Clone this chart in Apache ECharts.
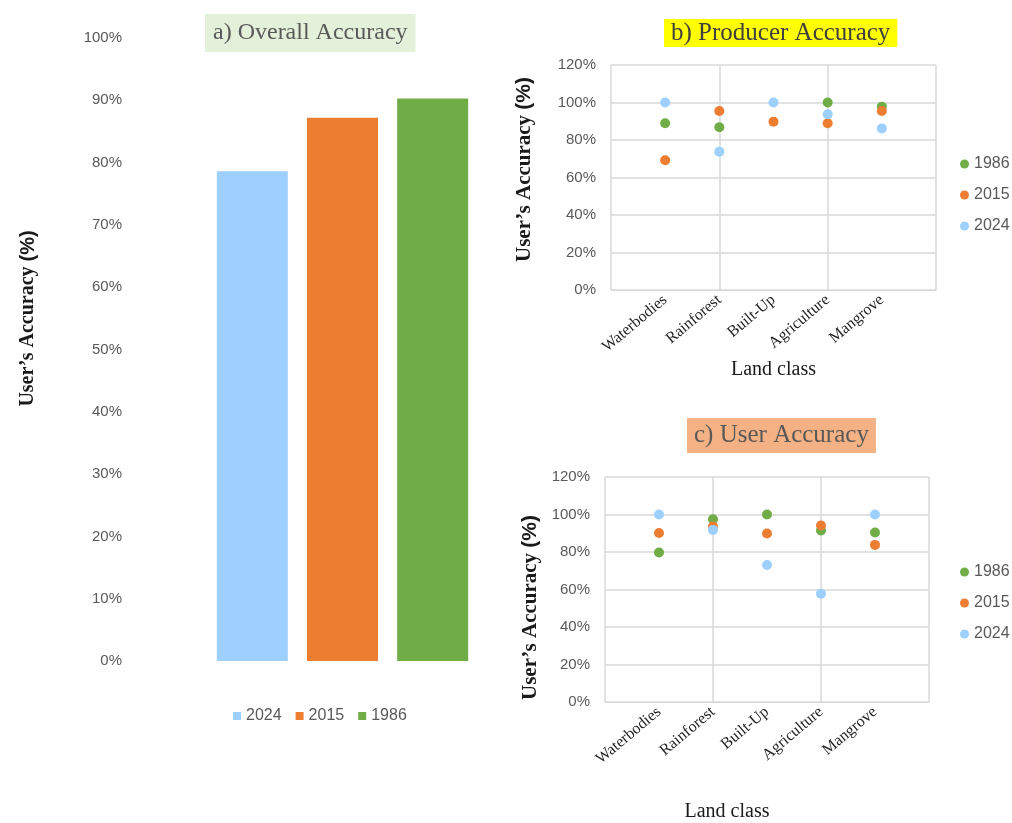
<!DOCTYPE html>
<html>
<head>
<meta charset="utf-8">
<script src="https://cdn.jsdelivr.net/npm/echarts@6/dist/echarts.min.js"></script>
<style>
  html, body { margin: 0; padding: 0; background: #ffffff; }
  #chart { width: 1012px; height: 823px; }
</style>
</head>
<body>
<div id="chart"></div>
<script>
// Years shown in every panel
const years = ['1986', '2015', '2024'];
const yearColors = { '1986': '#70AD47', '2015': '#ED7D31', '2024': '#9DCFFF' };

// a) Overall accuracy per year (%)
const overallYears = ['2024', '2015', '1986'];
const overallAccuracy = [78.6, 87.2, 90.3];

// Land classes (b and c); blank slots pad the axis ends
const landClasses = ['Waterbodies', 'Rainforest', 'Built-Up', 'Agriculture', 'Mangrove'];
const classSlots = [''].concat(landClasses, ['']);

// b) Producer accuracy (%) by land class
const producer1986 = [88.9, 86.8, null, 100, 97.8];
const producer2015 = [69.2, 95.5, 89.8, 88.9, 95.5];
const producer2024 = [100, 73.8, 100, 93.7, 86.2];

// c) User accuracy (%) by land class
const user1986 = [79.7, 97.5, 100, 91.5, 90.4];
const user2015 = [90.1, 93.6, 89.9, 94.1, 83.8];
const user2024 = [100, 91.8, 73.1, 57.8, 100];

// Tick labels
const pctTicksA = [0, 10, 20, 30, 40, 50, 60, 70, 80, 90, 100];
const pctTicksBC = [0, 20, 40, 60, 80, 100, 120];

const serif = '"Liberation Serif", "DejaVu Serif", serif';
const sans = '"Liberation Sans", Arial, sans-serif';
const gridGray = '#D9D9D9';
const tickGray = '#595959';

function pctAxis(gridIndex, ticks, opts) {
  const step = ticks[1] - ticks[0];
  return Object.assign({
    type: 'value',
    gridIndex: gridIndex,
    min: ticks[0],
    max: ticks[ticks.length - 1],
    interval: step,
    axisTick: { show: false },
    axisLine: { show: false },
    nameLocation: 'middle',
    nameRotate: 90,
    name: '{s|User\u2019s Accuracy }{p|(%)}'
  }, opts);
}

function yName(size, pad) {
  return {
    padding: pad,
    rich: {
      s: { fontFamily: serif, fontWeight: 'bold', fontSize: size, color: '#1a1a1a' },
      p: { fontFamily: sans, fontWeight: 'bold', fontSize: size, color: '#1a1a1a' }
    }
  };
}

function classAxis(gridIndex, nameGap, namePad) {
  return {
    type: 'category',
    gridIndex: gridIndex,
    data: classSlots,
    boundaryGap: false,
    axisTick: { show: false },
    axisLine: { lineStyle: { color: gridGray } },
    splitLine: { show: true, interval: (i) => i % 2 === 0, lineStyle: { color: gridGray, width: 1.5 } },
    axisLabel: { interval: 0, rotate: 40, margin: 8, color: '#1f1f1f', fontFamily: serif, fontSize: 16 },
    name: 'Land class',
    nameLocation: 'middle',
    nameGap: nameGap,
    nameTextStyle: { fontFamily: serif, fontSize: 20, color: '#1a1a1a', padding: namePad }
  };
}

function pairs(values) {
  return values.map((v, i) => (v === null ? null : [landClasses[i], v])).filter((p) => p !== null);
}

function scatter(name, values, axisIndex) {
  return {
    type: 'scatter',
    name: name,
    xAxisIndex: axisIndex,
    yAxisIndex: axisIndex,
    symbolSize: 10,
    itemStyle: { color: yearColors[name], opacity: 1 },
    data: pairs(values)
  };
}

const titleStyle = (bg, color, size, pad) => ({
  textStyle: { fontFamily: serif, fontSize: size, fontWeight: 'normal', color: color },
  backgroundColor: bg,
  padding: pad
});

const legendText = { fontFamily: sans, fontSize: 16, color: tickGray };

const chart = echarts.init(document.getElementById('chart'), null, { renderer: 'canvas' });

chart.setOption({
  animation: false,
  backgroundColor: '#ffffff',
  title: [
    Object.assign({ text: 'a) Overall Accuracy', left: 205, top: 14 }, titleStyle('#E3F0DA', '#595959', 24, [7, 8, 7, 8])),
    Object.assign({ text: 'b) Producer Accuracy', left: 664, top: 19 }, titleStyle('#FFFF00', '#3f3f3f', 25, [2, 7, 1, 7])),
    Object.assign({ text: 'c) User Accuracy', left: 687, top: 418 }, titleStyle('#F4B183', '#595959', 25, [5, 7, 5, 7]))
  ],
  legend: [
    {
      data: overallYears, icon: 'rect', itemWidth: 8, itemHeight: 8, itemGap: 14,
      left: 228, top: 703, textStyle: legendText
    },
    {
      data: years, icon: 'circle', orient: 'vertical', itemWidth: 9, itemHeight: 9, itemGap: 15,
      left: 955, top: 151, textStyle: legendText
    },
    {
      data: years, icon: 'circle', orient: 'vertical', itemWidth: 9, itemHeight: 9, itemGap: 15,
      left: 955, top: 559, textStyle: legendText
    }
  ],
  grid: [
    { left: 130, top: 38, width: 425, height: 623 },
    { left: 611, top: 65, width: 325, height: 225 },
    { left: 605, top: 477, width: 324, height: 225 }
  ],
  xAxis: [
    {
      type: 'category', gridIndex: 0, data: ['Overall'],
      axisLine: { show: false }, axisTick: { show: false }, axisLabel: { show: false }
    },
    classAxis(1, 70, [0, 0, 0, 0]),
    classAxis(2, 100, [0, 80, 0, 0])
  ],
  yAxis: [
    pctAxis(0, pctTicksA, {
      splitLine: { show: false },
      axisLabel: { formatter: '{value}%', color: tickGray, fontFamily: sans, fontSize: 15, margin: 8 },
      nameGap: 92,
      nameTextStyle: yName(20, [0, 0, 0, 62])
    }),
    pctAxis(1, pctTicksBC, {
      splitLine: { show: true, lineStyle: { color: gridGray, width: 1.5 } },
      axisLabel: { formatter: '{value}%', color: tickGray, fontFamily: sans, fontSize: 15, margin: 15 },
      nameGap: 76,
      nameTextStyle: yName(21, [0, 0, 0, 16])
    }),
    pctAxis(2, pctTicksBC, {
      splitLine: { show: true, lineStyle: { color: gridGray, width: 1.5 } },
      axisLabel: { formatter: '{value}%', color: tickGray, fontFamily: sans, fontSize: 15, margin: 15 },
      nameGap: 64,
      nameTextStyle: yName(21, [0, 36, 0, 0])
    })
  ],
  series: overallYears.map((y, i) => ({
    type: 'bar',
    name: y,
    xAxisIndex: 0,
    yAxisIndex: 0,
    barWidth: 71,
    barGap: '27%',
    itemStyle: { color: yearColors[y] },
    data: [overallAccuracy[i]]
  })).concat([
    scatter('1986', producer1986, 1),
    scatter('2015', producer2015, 1),
    scatter('2024', producer2024, 1),
    scatter('1986', user1986, 2),
    scatter('2015', user2015, 2),
    scatter('2024', user2024, 2)
  ])
});
</script>
</body>
</html>
